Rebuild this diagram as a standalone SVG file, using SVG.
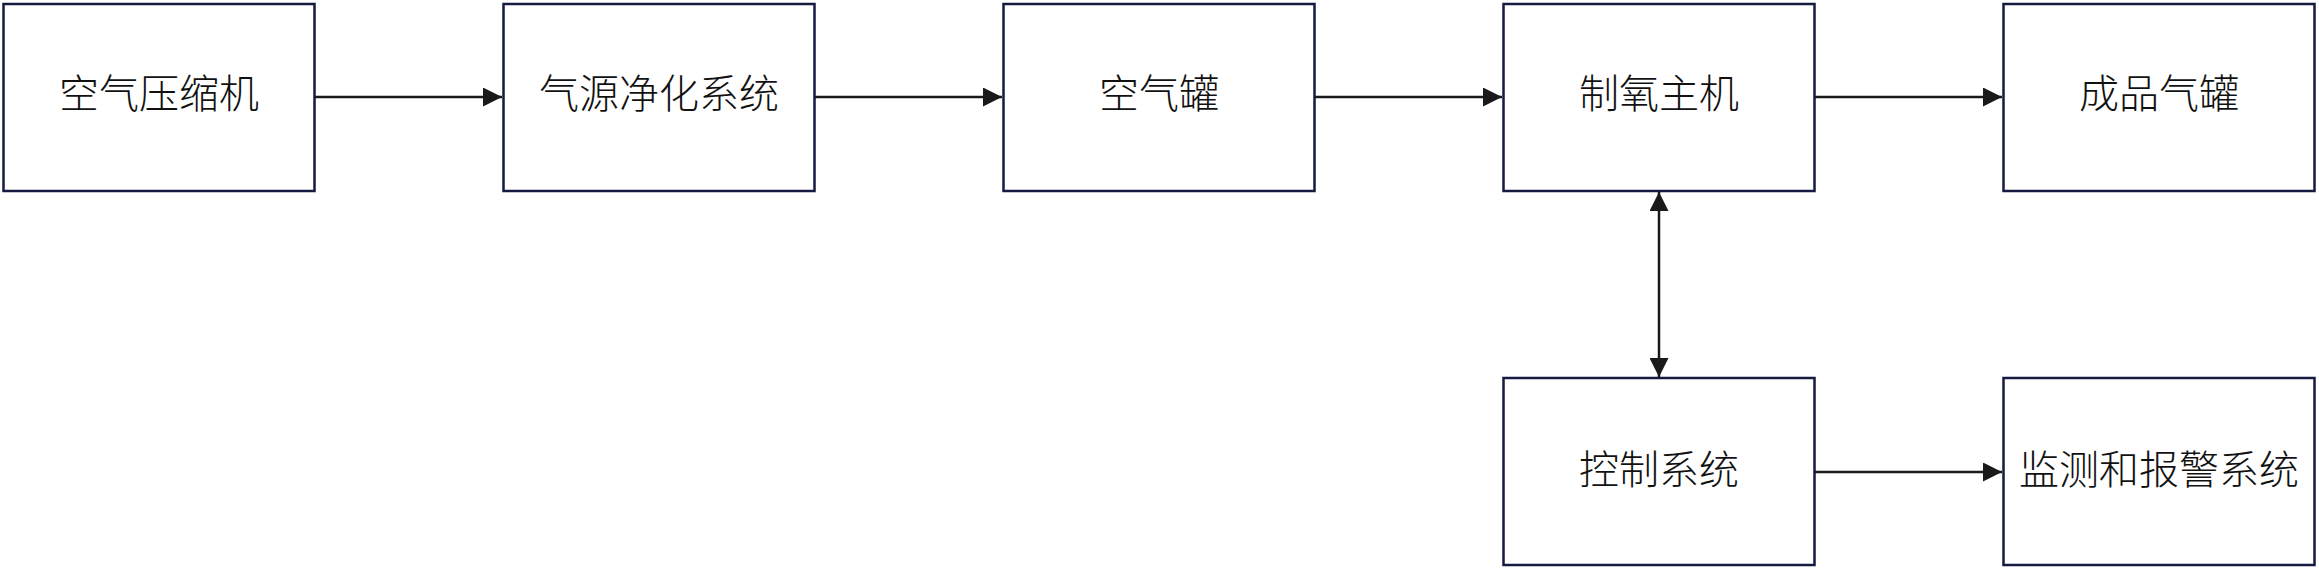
<svg xmlns="http://www.w3.org/2000/svg" width="2319" height="569" viewBox="0 0 2319 569">
<style>
.box{fill:#ffffff;stroke:#141a40;stroke-width:2.5}
.lbl{font-family:"Noto Sans CJK SC","Noto Sans CJK TC",sans-serif;font-size:40px;font-weight:300;fill:#111111;text-anchor:middle}
.conn{stroke:#1a1a1a;stroke-width:2.5;fill:none}
</style>
<defs>
<marker id="ah" viewBox="0 0 19 19" refX="19" refY="9.5" markerWidth="19" markerHeight="19" markerUnits="userSpaceOnUse" orient="auto-start-reverse">
<path d="M0,0 L19,9.5 L0,19 Z" fill="#1a1a1a"/>
</marker>
</defs>
<rect width="2319" height="569" fill="#ffffff"/>
<g id="n1"><rect class="box" x="3.5" y="4" width="311" height="187"/><text class="lbl" x="159" y="108">空气压缩机</text></g>
<g id="n2"><rect class="box" x="503.5" y="4" width="311" height="187"/><text class="lbl" x="659" y="108">气源净化系统</text></g>
<g id="n3"><rect class="box" x="1003.5" y="4" width="311" height="187"/><text class="lbl" x="1159" y="108">空气罐</text></g>
<g id="n4"><rect class="box" x="1503.5" y="4" width="311" height="187"/><text class="lbl" x="1659" y="108">制氧主机</text></g>
<g id="n5"><rect class="box" x="2003.5" y="4" width="311" height="187"/><text class="lbl" x="2159" y="108">成品气罐</text></g>
<g id="n6"><rect class="box" x="1503.5" y="378" width="311" height="187"/><text class="lbl" x="1659" y="484">控制系统</text></g>
<g id="n7"><rect class="box" x="2003.5" y="378" width="311" height="187"/><text class="lbl" x="2159" y="484">监测和报警系统</text></g>
<g id="connectors">
<line class="conn" x1="315" y1="97" x2="502" y2="97" marker-end="url(#ah)"/>
<line class="conn" x1="815" y1="97" x2="1002" y2="97" marker-end="url(#ah)"/>
<line class="conn" x1="1315" y1="97" x2="1502" y2="97" marker-end="url(#ah)"/>
<line class="conn" x1="1815" y1="97" x2="2002" y2="97" marker-end="url(#ah)"/>
<line class="conn" x1="1659" y1="192" x2="1659" y2="377" marker-start="url(#ah)" marker-end="url(#ah)"/>
<line class="conn" x1="1815" y1="472" x2="2002" y2="472" marker-end="url(#ah)"/>
</g>
</svg>
